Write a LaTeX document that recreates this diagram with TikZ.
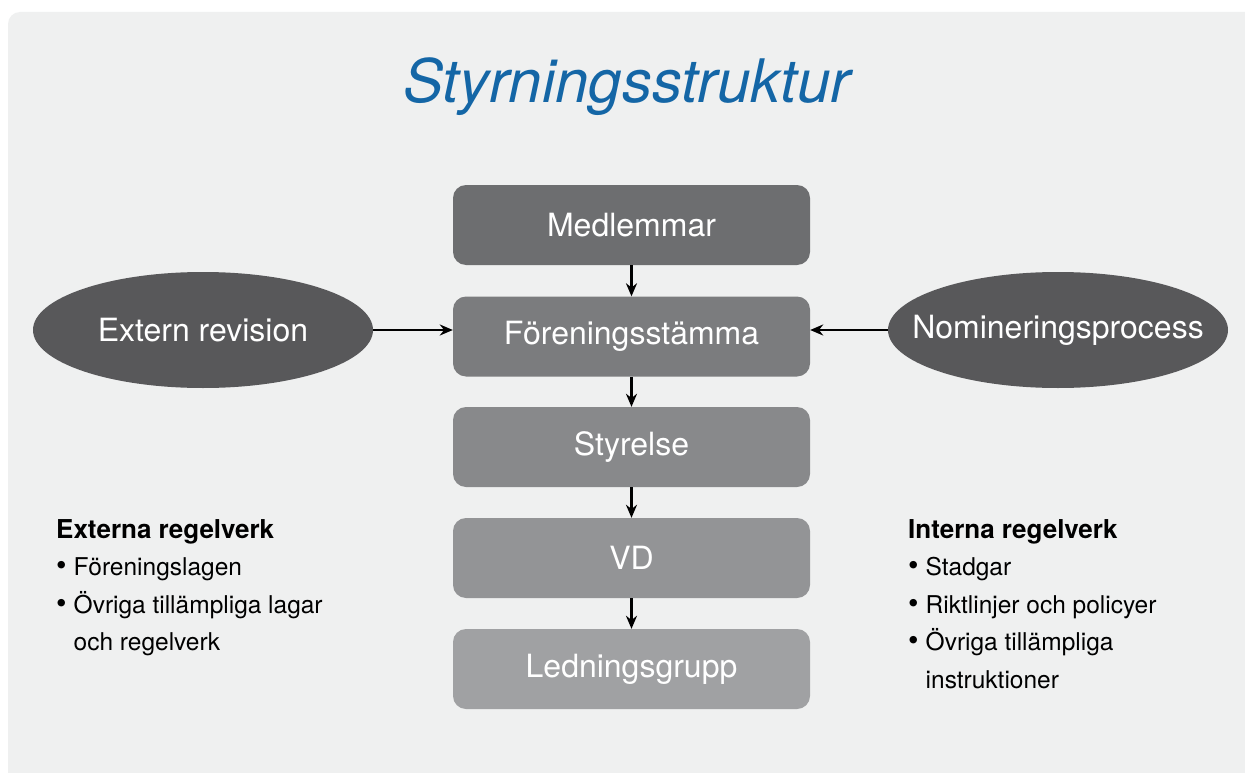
\documentclass[tikz,border=0pt]{standalone}
\usepackage{fontspec}
\setmainfont{TeX Gyre Heros}
\usetikzlibrary{shapes.geometric,arrows.meta}
\definecolor{panelgray}{HTML}{EFF0F0}
\definecolor{titleblue}{HTML}{1466A6}
\definecolor{ovalgray}{HTML}{58585A}
\definecolor{boxA}{HTML}{6D6E70}
\definecolor{boxB}{HTML}{7B7C7E}
\definecolor{boxC}{HTML}{88898B}
\definecolor{boxD}{HTML}{939496}
\definecolor{boxE}{HTML}{A0A1A3}
\newcommand{\dotitem}{{\fontsize{30}{30}\selectfont\textbullet}\hspace{7pt}}
\newcommand{\dotskip}{\hphantom{\dotitem}}

\begin{document}
\begin{tikzpicture}[x=1pt,y=-1pt,
    level/.style={rectangle, rounded corners=13pt, minimum width=357pt, minimum height=80pt,
                  text=white, font=\fontsize{32}{36}\selectfont, inner sep=0pt},
    oval/.style={ellipse, fill=ovalgray, minimum width=340pt, minimum height=116pt,
                 text=white, font=\fontsize{32}{36}\selectfont, inner sep=0pt},
    flow/.style={line width=2.2pt, -{Stealth[length=13pt,width=11pt]}},
    rules/.style={align=left, anchor=north west, inner sep=0pt,
                  font=\fontsize{24.5}{37.5}\selectfont}]
    \useasboundingbox (0,0) rectangle (1245,773);
    \fill[white] (0,0) rectangle (1245,773);
    \fill[panelgray, rounded corners=12pt] (8,12) rectangle (1275,800);

    \node[anchor=base, text=titleblue, font=\fontsize{60}{70}\selectfont\itshape] (title) at (627,103) {Styrningsstruktur};

    % center column
    \node[level, fill=boxA] (medl) at (631.5,225) {Medlemmar};
    \node[level, fill=boxB] (stamma) at (631.5,336.5) {Föreningsstämma};
    \node[level, fill=boxC] (styr) at (631.5,447) {Styrelse};
    \node[level, fill=boxD] (vd) at (631.5,558) {VD};
    \node[level, fill=boxE] (ledn) at (631.5,669) {Ledningsgrupp};

    \node[oval] (revision) at (203,330) {\makebox[0pt]{Extern revision}};
    \node[oval] (nominering) at (1058,330) {\makebox[0pt]{Nomineringsprocess}};

    \draw[flow] (medl) -- (stamma);
    \draw[flow] (stamma) -- (styr);
    \draw[flow] (styr) -- (vd);
    \draw[flow] (vd) -- (ledn);
    \draw[flow] (revision.east) -- (stamma.west |- revision.east);
    \draw[flow] (nominering.west) -- (stamma.east |- nominering.west);

    % regelverk
    \node[rules] (externa) at (56,519) {{\fontsize{26}{37.5}\selectfont\bfseries Externa regelverk}\\
        \dotitem Föreningslagen\\
        \dotitem Övriga tillämpliga lagar\\
        \dotskip och regelverk};
    \node[rules] (interna) at (908,519) {{\fontsize{26}{37.5}\selectfont\bfseries Interna regelverk}\\
        \dotitem Stadgar\\
        \dotitem Riktlinjer och policyer\\
        \dotitem Övriga tillämpliga\\
        \dotskip instruktioner};
\end{tikzpicture}
\end{document}
